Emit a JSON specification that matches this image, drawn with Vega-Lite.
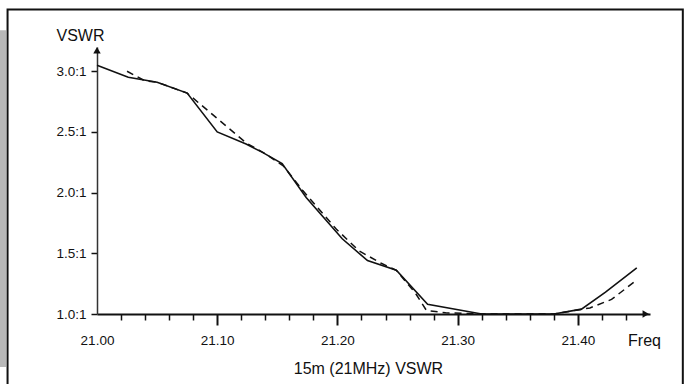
{
  "$schema": "https://vega.github.io/schema/vega-lite/v6.json",
  "width": 553,
  "height": 267,
  "autosize": {"type": "none"},
  "padding": {"left": 97, "top": 47, "right": 35, "bottom": 70},
  "background": "white",
  "config": {"view": {"stroke": null}, "font": "Liberation Sans"},
  "layer": [
    {
      "data": {"values": [
        {"ax": 21.4565, "ay": 1.0, "shape": "triangle-right"},
        {"ax": 21.0, "ay": 3.173, "shape": "triangle-up"}
      ]},
      "mark": {"type": "point", "filled": true, "color": "#111111", "size": 55, "opacity": 1},
      "encoding": {
        "x": {"field": "ax", "type": "quantitative", "scale": {"domain": [21.0, 21.46], "nice": false, "zero": false},
          "axis": {
            "orient": "bottom",
            "values": [21.0, 21.02, 21.04, 21.06, 21.08, 21.1, 21.12, 21.14, 21.16, 21.18, 21.2, 21.22, 21.24, 21.26, 21.28, 21.3, 21.32, 21.34, 21.36, 21.38, 21.4, 21.42, 21.44],
            "tickCount": 60,
            "labelExpr": "round(datum.value * 100) % 10 == 0 ? format(datum.value, '.2f') : ''",
            "ticks": true,
            "tickSize": {"condition": {"test": "round(datum.value * 100) % 10 == 0", "value": 11}, "value": 6},
            "tickWidth": {"condition": {"test": "round(datum.value * 100) % 10 == 0", "value": 2}, "value": 1.5},
            "tickOpacity": {"condition": {"test": "datum.value < 21.001", "value": 0}, "value": 1},
            "tickColor": "#111111",
            "grid": false,
            "domain": true, "domainColor": "#111111", "domainWidth": 2,
            "labelPadding": 8, "labelFontSize": 13.5, "labelColor": "#111111",
            "labelFlush": false, "labelOverlap": false,
            "title": "Freq", "titleX": 547, "titleY": 31, "titleAlign": "center",
            "titleBaseline": "alphabetic", "titleFontSize": 16, "titleFontWeight": "normal", "titleColor": "#111111"
          }},
        "y": {"field": "ay", "type": "quantitative", "scale": {"domain": [1.0, 3.2], "nice": false, "zero": false},
          "axis": {
            "values": [1.0, 1.5, 2.0, 2.5, 3.0],
            "labelExpr": "format(datum.value, '.1f') + ':1'",
            "grid": false, "domain": true, "domainColor": "#333333", "domainWidth": 1.5,
            "tickSize": 6, "tickWidth": 1.5, "tickColor": "#111111",
            "labelPadding": 5, "labelFontSize": 13.5, "labelColor": "#111111",
            "labelFlush": false, "labelOverlap": false,
            "title": "VSWR", "titleAngle": 0, "titleX": -17, "titleY": -7,
            "titleAlign": "center", "titleBaseline": "alphabetic",
            "titleFontSize": 16, "titleFontWeight": "normal", "titleColor": "#111111"
          }},
        "shape": {"field": "shape", "type": "nominal", "scale": null, "legend": null}
      }
    },
    {
      "data": {"values": [{"part": "strip"}]},
      "mark": {"type": "rect", "fill": "#b8b8b8"},
      "encoding": {
        "x": {"datum": 20.9193, "type": "quantitative"},
        "x2": {"datum": 20.9243},
        "y": {"datum": 3.337, "type": "quantitative"},
        "y2": {"datum": 0.564}
      }
    },
    {
      "data": {"values": [{"part": "frame"}]},
      "mark": {"type": "rect", "fillOpacity": 0, "stroke": "#111111", "strokeWidth": 2},
      "encoding": {
        "x": {"datum": 20.9256, "type": "quantitative"},
        "x2": {"datum": 21.4873},
        "y": {"datum": 3.51, "type": "quantitative"},
        "y2": {"datum": 0.35}
      }
    },
    {
      "data": {"values": [
        {"freq": 21.000, "vswr": 3.05},
        {"freq": 21.026, "vswr": 2.95},
        {"freq": 21.050, "vswr": 2.91},
        {"freq": 21.075, "vswr": 2.82},
        {"freq": 21.100, "vswr": 2.50},
        {"freq": 21.124, "vswr": 2.40},
        {"freq": 21.138, "vswr": 2.33},
        {"freq": 21.154, "vswr": 2.24},
        {"freq": 21.174, "vswr": 1.96},
        {"freq": 21.204, "vswr": 1.62},
        {"freq": 21.225, "vswr": 1.44},
        {"freq": 21.249, "vswr": 1.36},
        {"freq": 21.275, "vswr": 1.08},
        {"freq": 21.320, "vswr": 1.00},
        {"freq": 21.380, "vswr": 1.00},
        {"freq": 21.403, "vswr": 1.04},
        {"freq": 21.423, "vswr": 1.18},
        {"freq": 21.449, "vswr": 1.38}
      ]},
      "mark": {"type": "line", "color": "#111111", "strokeWidth": 1.6},
      "encoding": {
        "x": {"field": "freq", "type": "quantitative"},
        "y": {"field": "vswr", "type": "quantitative"}
      }
    },
    {
      "data": {"values": [
        {"freq": 21.025, "vswr": 3.00},
        {"freq": 21.040, "vswr": 2.92},
        {"freq": 21.050, "vswr": 2.91},
        {"freq": 21.075, "vswr": 2.82},
        {"freq": 21.124, "vswr": 2.41},
        {"freq": 21.140, "vswr": 2.32},
        {"freq": 21.155, "vswr": 2.22},
        {"freq": 21.171, "vswr": 2.02},
        {"freq": 21.199, "vswr": 1.70},
        {"freq": 21.218, "vswr": 1.52},
        {"freq": 21.236, "vswr": 1.42},
        {"freq": 21.249, "vswr": 1.36},
        {"freq": 21.265, "vswr": 1.17},
        {"freq": 21.274, "vswr": 1.03},
        {"freq": 21.290, "vswr": 1.01},
        {"freq": 21.320, "vswr": 1.00},
        {"freq": 21.380, "vswr": 1.00},
        {"freq": 21.410, "vswr": 1.05},
        {"freq": 21.428, "vswr": 1.12},
        {"freq": 21.449, "vswr": 1.28}
      ]},
      "mark": {"type": "line", "color": "#111111", "strokeWidth": 1.5, "strokeDash": [7, 5]},
      "encoding": {
        "x": {"field": "freq", "type": "quantitative"},
        "y": {"field": "vswr", "type": "quantitative"}
      }
    },
    {
      "data": {"values": [{"caption": "15m (21MHz) VSWR"}]},
      "mark": {"type": "text", "fontSize": 16, "color": "#111111", "align": "center", "baseline": "alphabetic"},
      "encoding": {
        "x": {"datum": 21.2258, "type": "quantitative"},
        "y": {"datum": 0.506, "type": "quantitative"},
        "text": {"field": "caption"}
      }
    }
  ]
}
